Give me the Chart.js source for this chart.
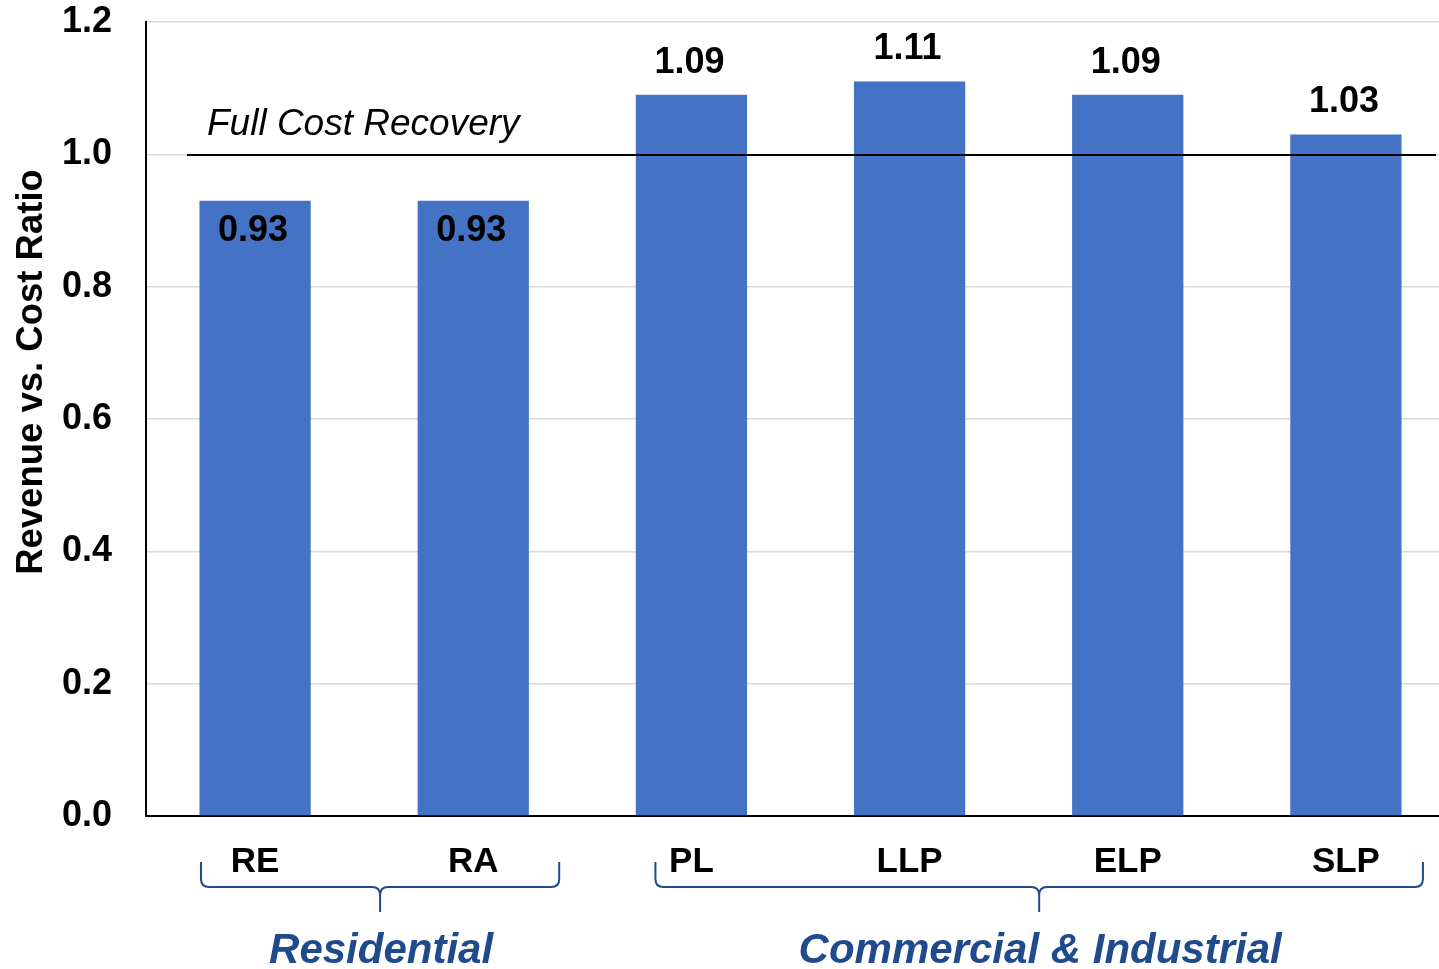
<!DOCTYPE html>
<html>
<head>
<meta charset="utf-8">
<script src="https://cdn.jsdelivr.net/npm/chart.js@4.4.1/dist/chart.umd.min.js"></script>
<style>
  html, body { margin: 0; padding: 0; background: #fff; overflow: hidden; }
  canvas { display: block; }
</style>
</head>
<body>
<canvas id="chart" width="1455" height="969" style="width:1455px;height:969px"></canvas>
<script>
// datos del grafico
const categories = ['RE', 'RA', 'PL', 'LLP', 'ELP', 'SLP'];
const ratios = [0.93, 0.93, 1.09, 1.11, 1.09, 1.03];
const yTicks = [0, 0.2, 0.4, 0.6, 0.8, 1.0, 1.2];
const fullCostLevel = 1.0;
const fullCostLabel = 'Full Cost Recovery';
const yTitle = 'Revenue vs. Cost Ratio';
const groupNames = ['Residential', 'Commercial & Industrial'];
// rango de cada grupo en indices de categoria (inicio, fin)
const groupRanges = [[-0.248, 1.394], [1.835, 5.353]];

const FONT = "'Liberation Sans', Arial, sans-serif";
const BLUE = '#4472C4';
const GROUP_COLOR = '#1F4A8C';

// plugin para linea de referencia, etiquetas y llaves
const extras = {
  id: 'extras',
  afterDatasetsDraw(chart) {
    const ctx = chart.ctx;
    const x = chart.scales.x;
    const y = chart.scales.y;

    // linea de recuperacion total
    const yLine = Math.round(y.getPixelForValue(fullCostLevel)) + 1;
    ctx.save();
    ctx.strokeStyle = '#000';
    ctx.lineWidth = 2;
    ctx.beginPath();
    ctx.moveTo(187, yLine);
    ctx.lineTo(1436, yLine);
    ctx.stroke();

    ctx.fillStyle = '#000';
    ctx.font = 'italic 37px ' + FONT;
    ctx.textAlign = 'left';
    ctx.textBaseline = 'alphabetic';
    ctx.fillText(fullCostLabel, 207, yLine - 20);

    // etiquetas de valores
    const meta = chart.getDatasetMeta(0);
    ctx.font = 'bold 36px ' + FONT;
    ctx.textAlign = 'center';
    ctx.textBaseline = 'middle';
    meta.data.forEach((bar, i) => {
      const v = ratios[i];
      const ty = v < fullCostLevel ? bar.y + 30 : bar.y - 32;
      ctx.fillText(v.toFixed(2), bar.x - 2, ty);
    });

    // llaves de grupos
    ctx.strokeStyle = GROUP_COLOR;
    ctx.lineWidth = 2;
    const top = 862, mid = 887, tip = 912;
    groupRanges.forEach((r, g) => {
      const x0 = x.getPixelForValue(r[0]);
      const x1 = x.getPixelForValue(r[1]);
      const cx = (x0 + x1) / 2;
      ctx.beginPath();
      ctx.moveTo(x0, top);
      ctx.lineTo(x0, mid - 8);
      ctx.quadraticCurveTo(x0, mid, x0 + 8, mid);
      ctx.lineTo(cx - 8, mid);
      ctx.quadraticCurveTo(cx, mid, cx, mid + 8);
      ctx.lineTo(cx, tip);
      ctx.moveTo(cx, mid + 8);
      ctx.quadraticCurveTo(cx, mid, cx + 8, mid);
      ctx.lineTo(x1 - 8, mid);
      ctx.quadraticCurveTo(x1, mid, x1, mid - 8);
      ctx.lineTo(x1, top);
      ctx.stroke();

      ctx.fillStyle = GROUP_COLOR;
      ctx.font = 'italic bold 42px ' + FONT;
      ctx.textAlign = 'center';
      ctx.textBaseline = 'middle';
      ctx.fillText(groupNames[g], cx + 1, 951);
    });

    // titulo del eje y
    ctx.fillStyle = '#000';
    ctx.font = 'bold 36.5px ' + FONT;
    ctx.translate(32, 372);
    ctx.rotate(-Math.PI / 2);
    ctx.textAlign = 'center';
    ctx.textBaseline = 'middle';
    ctx.fillText(yTitle, 0, 0);
    ctx.restore();
  }
};

const ctx = document.getElementById('chart').getContext('2d');
const myChart = new Chart(ctx, {
  type: 'bar',
  data: {
    labels: categories,
    datasets: [{
      data: ratios,
      backgroundColor: BLUE,
      borderWidth: 0,
      barPercentage: 0.51,
      categoryPercentage: 1.0
    }]
  },
  options: {
    responsive: false,
    animation: false,
    layout: { padding: { top: 22, left: 0, right: 0, bottom: 0 } },
    plugins: {
      legend: { display: false },
      tooltip: { enabled: false }
    },
    scales: {
      x: {
        grid: { display: false, drawTicks: false },
        border: { color: '#000', width: 2 },
        ticks: {
          color: '#000',
          padding: 25,
          font: { family: FONT, size: 35, weight: 'bold' }
        },
        afterFit(scale) { scale.height = 153; }
      },
      y: {
        min: 0,
        max: 1.2,
        afterBuildTicks(scale) { scale.ticks = yTicks.map(v => ({ value: v })); },
        grid: { color: '#d9d9d9', lineWidth: 1.5, drawTicks: false },
        border: { color: '#000', width: 2 },
        ticks: {
          color: '#000',
          padding: 34,
          font: { family: FONT, size: 36, weight: 'bold' },
          callback: v => v.toFixed(1)
        },
        afterFit(scale) {
          scale.width = 146;
          scale.paddingTop = 0;
          scale.paddingBottom = 0;
        }
      }
    }
  },
  plugins: [extras]
});
</script>
</body>
</html>
